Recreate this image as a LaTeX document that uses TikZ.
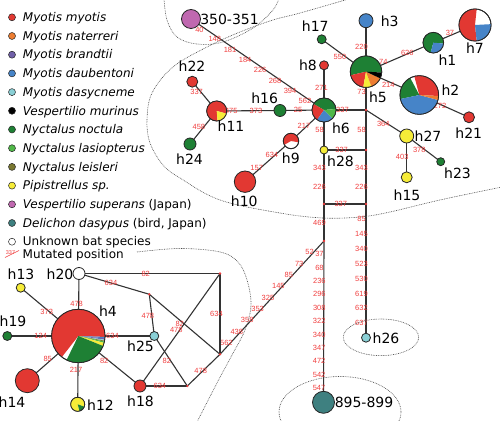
\documentclass[tikz,border=0pt]{standalone}
\usepackage{fontspec}
\setmainfont{DejaVu Sans}
\newfontfamily\mutfont{Liberation Sans}
\usetikzlibrary{positioning,backgrounds}

\definecolor{cRed}{RGB}{226,56,50}
\definecolor{cOrange}{RGB}{237,125,49}
\definecolor{cPurple}{RGB}{112,96,168}
\definecolor{cBlue}{RGB}{70,132,200}
\definecolor{cCyan}{RGB}{138,208,214}
\definecolor{cGreen}{RGB}{30,128,52}
\definecolor{cLightGreen}{RGB}{80,184,72}
\definecolor{cOlive}{RGB}{122,120,48}
\definecolor{cYellow}{RGB}{246,236,56}
\definecolor{cPink}{RGB}{192,104,176}
\definecolor{cTeal}{RGB}{62,128,128}
\definecolor{mutRed}{RGB}{240,62,62}

\newcommand{\hapslice}[5]{\fill[#5] (#1.center) -- ++(#3:#2) arc[start angle=#3, end angle=#4, radius=#2] -- cycle;}
\newcommand{\hapring}[2]{\draw[black!85, line width=0.8pt] (#1.center) circle[radius=#2];}

\begin{document}
\begin{tikzpicture}[x=1pt, y=1pt,
                    hap/.style={circle, draw=black!85, line width=0.8pt, inner sep=0pt, minimum size=#1},
                    jdot/.style={circle, fill=mutRed, inner sep=0pt, minimum size=2.6pt},
                    hap label/.style={font=\fontsize{14}{16}\selectfont, inner sep=0pt, text height=10.2pt, text depth=0pt},
                    net line/.style={draw=black!80, line width=1.1pt},
                    mut/.style={text=mutRed, font=\mutfont\fontsize{7.5}{7.5}\selectfont, inner sep=0pt},
                    mut left/.style={mut, xshift=-4.5pt},
                    mut sw/.style={mut, xshift=-1.5pt, yshift=-3pt},
                    region/.style={draw=black!70, line width=0.6pt, dash pattern=on 0.8pt off 0.9pt},
                    leg dot/.style={circle, draw=black!85, line width=0.5pt, inner sep=0pt, minimum size=7pt},
                    leg text/.style={font=\fontsize{12}{14}\selectfont\itshape, inner sep=0pt, text height=8.6pt, text depth=0pt}]

    \useasboundingbox (0,0) rectangle (500,420);
    \clip (0,0) rectangle (500,420);

    % dotted groupings
    \draw [region] plot[smooth, tension=0.6] coordinates {(164,422) (167,400) (177,383) (197,376) (223,378) (253,392) (273,410) (279,422)};
    \draw [region] plot[smooth, tension=0.6] coordinates {(352,422) (300,407) (273,400) (240,388) (207,373) (173,353) (152,327) (147,300) (150,277) (163,255) (180,242) (220,220) (280,207) (323,202) (360,203) (390,208) (440,220) (502,233)};
    \draw [region] plot[smooth, tension=0.6] coordinates {(137,168) (180,171.5) (220,168) (238,158) (247,140) (251,115) (245,90) (232,65) (217,37) (197,-2)};
    \draw [region] (381,82.7) ellipse [x radius=37.7, y radius=18.3];
    \draw [region] (340,8) ellipse [x radius=61, y radius=35.5];

    % legend
    \node [leg dot, fill=cRed] (l1) at (12,402.7) {};
    \node [leg dot, fill=cOrange, below=11.2pt of l1] (l2) {};
    \node [leg dot, fill=cPurple, below=11.2pt of l2] (l3) {};
    \node [leg dot, fill=cBlue, below=11.2pt of l3] (l4) {};
    \node [leg dot, fill=cCyan, below=11.2pt of l4] (l5) {};
    \node [leg dot, fill=black, below=11.2pt of l5] (l6) {};
    \node [leg dot, fill=cGreen, below=11.2pt of l6] (l7) {};
    \node [leg dot, fill=cLightGreen, below=11.2pt of l7] (l8) {};
    \node [leg dot, fill=cOlive, below=11.2pt of l8] (l9) {};
    \node [leg dot, fill=cYellow, below=11.2pt of l9] (l10) {};
    \node [leg dot, fill=cPink, below=11.2pt of l10] (l11) {};
    \node [leg dot, fill=cTeal, below=11.2pt of l11] (l12) {};
    \node [leg dot, fill=white, below=11.2pt of l12] (l13) {};
    \node [mut, font=\mutfont\fontsize{5.5}{5.5}\selectfont] (l14) at (10.5,167.5) {337};
    \coordinate (l14a) at (5,162.5);
    \coordinate (l14b) at (19,169.5);
    \draw [mutRed, line width=0.6pt] (l14a) -- (l14b);

    \node [leg text, right=7pt of l1] (t1) {Myotis myotis};
    \node [leg text, right=7pt of l2] (t2) {Myotis naterreri};
    \node [leg text, right=7pt of l3] (t3) {Myotis brandtii};
    \node [leg text, right=7pt of l4] (t4) {Myotis daubentoni};
    \node [leg text, right=7pt of l5] (t5) {Myotis dasycneme};
    \node [leg text, right=7pt of l6] (t6) {Vespertilio murinus};
    \node [leg text, right=7pt of l7] (t7) {Nyctalus noctula};
    \node [leg text, right=7pt of l8] (t8) {Nyctalus lasiopterus};
    \node [leg text, right=7pt of l9] (t9) {Nyctalus leisleri};
    \node [leg text, right=7pt of l10] (t10) {Pipistrellus sp.};
    \node [leg text, right=7pt of l11] (t11) {Vespertilio superans {\upshape(Japan)}};
    \node [leg text, right=7pt of l12] (t12) {Delichon dasypus {\upshape(bird, Japan)}};
    \node [leg text, right=7pt of l13] (t13) {\upshape Unknown bat species};
    \node [leg text, anchor=west] (t14) at (22.5,166.1) {\upshape Mutated position};

    % haplotypes, upper network
    \node [hap=19pt, fill=cPink] (n350) at (191,401) {};
    \node [hap=14pt, fill=cBlue] (h3) at (366,399.3) {};
    \node [hap=9pt, fill=cGreen] (h17) at (321.7,380.7) {};
    \node [hap=9pt, fill=cRed] (h8) at (324,354.7) {};
    \node [hap=31.4pt, fill=white] (h5) at (366,348.3) {};
    \node [hap=20.6pt, fill=white] (h1) at (433.3,377.3) {};
    \node [hap=32pt, fill=white] (h7) at (475,395) {};
    \node [hap=38.6pt, fill=white] (h2) at (419.3,325) {};
    \node [hap=11pt, fill=cRed] (h21) at (469,302.7) {};
    \node [hap=11pt, fill=cRed] (h22) at (192.3,338.3) {};
    \node [hap=20pt, fill=white] (h11) at (216.7,309) {};
    \node [hap=12pt, fill=cGreen] (h24) at (190,276) {};
    \node [hap=12pt, fill=cGreen] (h16) at (280,309.5) {};
    \node [hap=24pt, fill=white] (h6) at (324,310) {};
    \node [hap=15.4pt, fill=white] (h9) at (291,279) {};
    \node [hap=21.4pt, fill=cRed] (h10) at (245,238.3) {};
    \node [hap=8pt, fill=cYellow] (h28) at (324,270) {};
    \node [hap=14pt, fill=cYellow] (h27) at (406.7,284) {};
    \node [hap=8pt, fill=cGreen] (h23) at (440.7,258.3) {};
    \node [hap=11pt, fill=cYellow] (h15) at (406.7,242.7) {};
    \node [hap=9pt, fill=cCyan] (h26) at (366,82.3) {};
    \node [hap=22pt, fill=cTeal] (n895) at (323.5,17.7) {};

    \node [jdot] (jA) at (366,310) {};
    \node [jdot] (jB) at (366,270) {};
    \node [jdot] (jC) at (324,216) {};
    \node [jdot] (jD) at (366,216) {};
    \node [jdot] (jE) at (324,179) {};

    % haplotypes, lower network
    \node [hap=53.4pt, fill=white] (h4) at (78.3,84) {};
    \node [hap=12pt, fill=white] (h20) at (79,146.5) {};
    \node [hap=9pt, fill=cYellow] (h13) at (20.7,132.3) {};
    \node [hap=9pt, fill=cGreen] (h19) at (7.3,84) {};
    \node [hap=24pt, fill=cRed] (h14) at (27.3,39.3) {};
    \node [hap=14pt, fill=white] (h12) at (77.7,15.7) {};
    \node [hap=12pt, fill=cRed] (h18) at (140,34) {};
    \node [hap=9pt, fill=cCyan] (h25) at (154.3,84) {};

    \node [jdot] (kA) at (220,146.5) {};
    \node [jdot] (kB) at (149.3,125.7) {};
    \node [jdot] (kC) at (220,65.7) {};
    \node [jdot] (kD) at (187.3,34) {};

    % pie charts
    \hapslice{h4}{26.7}{-2}{232}{cRed}
    \hapslice{h4}{26.7}{-5}{-2}{cBlue}
    \hapslice{h4}{26.7}{-8}{-5}{cPurple}
    \hapslice{h4}{26.7}{-10}{-8}{cCyan}
    \hapslice{h4}{26.7}{-12}{-10}{cOlive}
    \hapslice{h4}{26.7}{-15}{-12}{cLightGreen}
    \hapslice{h4}{26.7}{-22}{-15}{cYellow}
    \hapslice{h4}{26.7}{-116}{-22}{cGreen}
    \hapring{h4}{26.7}
    \hapslice{h5}{15.7}{-3}{193}{cGreen}
    \hapslice{h5}{15.7}{193}{260}{cRed}
    \hapslice{h5}{15.7}{260}{290}{cYellow}
    \hapslice{h5}{15.7}{290}{335}{cOrange}
    \hapslice{h5}{15.7}{335}{357}{black}
    \hapring{h5}{15.7}
    \hapslice{h6}{12}{5}{150}{cGreen}
    \hapslice{h6}{12}{150}{235}{cRed}
    \hapslice{h6}{12}{235}{315}{cBlue}
    \hapslice{h6}{12}{315}{365}{cLightGreen}
    \hapring{h6}{12}
    \hapslice{h2}{19.3}{-3}{105}{cRed}
    \hapslice{h2}{19.3}{118}{192}{cGreen}
    \hapslice{h2}{19.3}{192}{345}{cBlue}
    \hapslice{h2}{19.3}{345}{357}{cOrange}
    \hapring{h2}{19.3}
    \hapslice{h7}{16}{84}{276}{cRed}
    \hapslice{h7}{16}{276}{363}{cBlue}
    \hapring{h7}{16}
    \hapslice{h1}{10.3}{-5}{255}{cGreen}
    \hapslice{h1}{10.3}{255}{355}{cBlue}
    \hapring{h1}{10.3}
    \hapslice{h11}{10}{-15}{275}{cRed}
    \hapslice{h11}{10}{275}{345}{cYellow}
    \hapring{h11}{10}
    \hapslice{h9}{7.7}{-10}{210}{cRed}
    \hapring{h9}{7.7}
    \hapslice{h12}{7}{-20}{285}{cYellow}
    \hapslice{h12}{7}{285}{340}{cGreen}
    \hapring{h12}{7}

    % haplotype names
    \node [hap label] (n350t) at (229.5,401) {350-351};
    \node [hap label] (h3t) at (389.7,398.3) {h3};
    \node [hap label] (h17t) at (315.3,393.3) {h17};
    \node [hap label] (h8t) at (308,355) {h8};
    \node [hap label] (h5t) at (378,323) {h5};
    \node [hap label] (h1t) at (447.5,359.5) {h1};
    \node [hap label] (h7t) at (475,371.7) {h7};
    \node [hap label] (h2t) at (450.5,329.5) {h2};
    \node [hap label] (h21t) at (468.8,287) {h21};
    \node [hap label] (h22t) at (192,353.3) {h22};
    \node [hap label] (h11t) at (231,293.3) {h11};
    \node [hap label] (h24t) at (189.5,261) {h24};
    \node [hap label] (h16t) at (264.7,321.7) {h16};
    \node [hap label] (h6t) at (341,291.7) {h6};
    \node [hap label] (h9t) at (290.8,261.7) {h9};
    \node [hap label] (h10t) at (244.3,219) {h10};
    \node [hap label] (h28t) at (340.5,258.3) {h28};
    \node [hap label] (h27t) at (428,283.3) {h27};
    \node [hap label] (h23t) at (457.5,246.7) {h23};
    \node [hap label] (h15t) at (407,225) {h15};
    \node [hap label] (h26t) at (386,82) {h26};
    \node [hap label] (n895t) at (364,17.5) {895-899};
    \node [hap label] (h4t) at (108,108.3) {h4};
    \node [hap label] (h20t) at (60,146) {h20};
    \node [hap label] (h13t) at (21,146) {h13};
    \node [hap label] (h19t) at (13,98.3) {h19};
    \node [hap label] (h14t) at (12,17.5) {h14};
    \node [hap label] (h12t) at (100.5,15) {h12};
    \node [hap label] (h25t) at (140.5,73.3) {h25};
    \node [hap label] (h18t) at (140.5,18.3) {h18};

    \begin{pgfonlayer}{background}
    % upper network
    \draw [net line] (n350.center) -- (h6.center) node[mut sw, pos=.075, yshift=-1.5pt] {40} node[mut sw, pos=.19] {148} node[mut sw, pos=.305] {181} node[mut sw, pos=.418] {184} node[mut sw, pos=.531] {226} node[mut sw, pos=.643] {268} node[mut sw, pos=.756] {394} node[mut sw, pos=.868] {562};
    \draw [net line] (h6.center) -- (h8.center) node[mut, pos=.5, xshift=-2.5pt] {271};
    \draw [net line] (h6.center) -- (h16.center) node[mut, pos=.59] {25};
    \draw [net line] (h16.center) -- (h11.center) node[mut, pos=.38] {373} node[mut, pos=.77] {475};
    \draw [net line] (h11.center) -- (h22.center) node[mut, pos=.66, xshift=-4pt] {337};
    \draw [net line] (h11.center) -- (h24.center) node[mut, pos=.48, xshift=-5pt] {458};
    \draw [net line] (h6.center) -- (h9.center) node[mut, pos=.5, xshift=-3.5pt] {217};
    \draw [net line] (h9.center) -- (h10.center) node[mut, pos=.34, xshift=-3.5pt] {634} node[mut, pos=.67, xshift=-3.5pt] {157};
    \draw [net line] (h6.center) -- (h28.center) node[mut left, pos=.5] {58};
    \draw [net line] (h6.center) -- (jA.center) node[mut, pos=.44] {337};
    \draw [net line] (h28.center) -- (jB.center) node[mut, pos=.42] {337};
    \draw [net line] (jC.center) -- (jD.center) node[mut, pos=.4] {337};
    \draw [net line] (h28.center) -- (jC.center) node[mut left, pos=.34] {343} node[mut left, pos=.68] {226};
    \draw [net line] (jC.center) -- (jE.center) node[mut left, pos=.5] {469};
    \draw [net line] (jE.center) -- (n895.center) node[mut left, pos=.081] {37} node[mut left, pos=.165] {68} node[mut left, pos=.248] {236} node[mut left, pos=.331] {296} node[mut left, pos=.414] {308} node[mut left, pos=.497] {322} node[mut left, pos=.58] {340} node[mut left, pos=.663] {347} node[mut left, pos=.746] {472} node[mut left, pos=.83] {542} node[mut left, pos=.913] {547};
    \draw [net line] (h3.center) -- (h5.center) node[mut left, pos=.52] {220};
    \draw [net line] (h5.center) -- (jA.center) node[mut left, pos=.52] {73};
    \draw [net line] (jA.center) -- (jB.center) node[mut left, pos=.5] {58};
    \draw [net line] (jB.center) -- (jD.center) node[mut left, pos=.34] {343} node[mut left, pos=.68] {226};
    \draw [net line] (jD.center) -- (h26.center) node[mut left, pos=.114] {85} node[mut left, pos=.225] {145} node[mut left, pos=.336] {340} node[mut left, pos=.447] {523} node[mut left, pos=.558] {530} node[mut left, pos=.669] {619} node[mut left, pos=.78] {632} node[mut left, pos=.891] {637};
    \draw [net line] (h5.center) -- (h17.center) node[mut, pos=.587, yshift=-4.5pt] {550};
    \draw [net line] (h5.center) -- (h1.center) node[mut, pos=.257, yshift=2pt] {74} node[mut, pos=.614, yshift=1pt] {626};
    \draw [net line] (h1.center) -- (h7.center) node[mut, pos=.4, yshift=2.5pt] {37};
    \draw [net line] (h5.center) -- (h2.center) node[mut, pos=.418, yshift=-3pt] {214};
    \draw [net line] (h2.center) -- (h21.center) node[mut, pos=.416, yshift=-1.5pt] {272};
    \draw [net line] (jA.center) -- (h27.center) node[mut, pos=.425, yshift=-3pt] {364};
    \draw [net line] (h27.center) -- (h15.center) node[mut left, pos=.5] {403};
    \draw [net line] (h27.center) -- (h23.center) node[mut, pos=.37, yshift=-4.5pt] {378};
    \draw [net line] (jE.center) -- (kC.center) node[mut, pos=.1, xshift=-4pt] {52} node[mut, pos=.2, xshift=-4pt] {73} node[mut, pos=.3, xshift=-4pt] {85} node[mut, pos=.4, xshift=-4pt] {145} node[mut, pos=.5, xshift=-4pt] {325} node[mut, pos=.6, xshift=-4pt] {353} node[mut, pos=.7, xshift=-4pt] {358} node[mut, pos=.8, xshift=-4pt] {438} node[mut, pos=.9, xshift=-4pt] {562};
    % lower network
    \draw [net line] (h4.center) -- (h20.center) node[mut, pos=.516, xshift=-2pt] {478};
    \draw [net line] (h20.center) -- (kA.center) node[mut, pos=.473] {82};
    \draw [net line] (h20.center) -- (kB.center) node[mut, pos=.455] {634};
    \draw [net line] (h4.center) -- (h13.center) node[mut, pos=.549, yshift=-2.5pt] {373};
    \draw [net line] (h4.center) -- (h19.center) node[mut, pos=.53] {124};
    \draw [net line] (h4.center) -- (h14.center) node[mut, pos=.6, yshift=4pt] {85};
    \draw [net line] (h4.center) -- (h12.center) node[mut, pos=.49, xshift=-2pt] {217};
    \draw [net line] (h4.center) -- (h25.center) node[mut, pos=.45] {634};
    \draw [net line] (h4.center) -- (h18.center) node[mut, pos=.42, yshift=-3.5pt] {82};
    \draw [net line] (kB.center) -- (h25.center) node[mut, pos=.52, xshift=-4pt] {478};
    \draw [net line] (kB.center) -- (kC.center) node[mut, pos=.43, yshift=-3.5pt] {82};
    \draw [net line] (h18.center) -- (kA.center) node[mut, pos=.497, xshift=-3.5pt] {478};
    \draw [net line] (kA.center) -- (kC.center) node[mut, pos=.5, xshift=-3.5pt] {634};
    \draw [net line] (h25.center) -- (kD.center) node[mut, pos=.5, xshift=-4pt] {82};
    \draw [net line] (h18.center) -- (kD.center) node[mut, pos=.42] {634};
    \draw [net line] (kD.center) -- (kC.center) node[mut, pos=.41, yshift=2.5pt] {478};
    \end{pgfonlayer}

\end{tikzpicture}
\end{document}
